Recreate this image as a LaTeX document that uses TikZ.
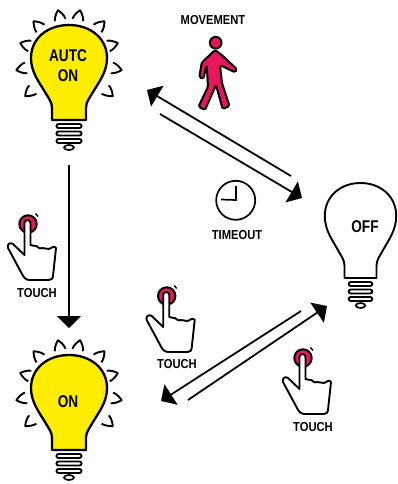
\documentclass[tikz,border=0pt]{standalone}
\usepackage{fontspec}
\newfontfamily\labelfont[FakeStretch=0.86]{Liberation Sans}
\newfontfamily\lampfont[FakeStretch=0.8]{Liberation Sans}
\usepackage{xcolor}
\usetikzlibrary{arrows.meta}
\definecolor{lampyellow}{HTML}{FFED00}
\definecolor{touchpink}{HTML}{E6175C}

\tikzset{
  pics/bulb/.style={code={
    \draw[fill=#1, line join=round] (-17,62) -- (-17,50)
      .. controls (-17,44) and (-20,41) .. (-24,34)
      .. controls (-30,24) and (-38,14) .. (-38,0)
      .. controls (-38,-20) and (-21,-33) .. (0,-33)
      .. controls (21,-33) and (38,-20) .. (38,0)
      .. controls (38,14) and (30,24) .. (24,34)
      .. controls (20,41) and (17,44) .. (17,50) -- (17,62) -- cycle;
    \foreach \yy in {68,75.5,83}
      \draw[fill=white, rounded corners=2pt, line width=1.9pt] (-12.5,\yy-2) rectangle (12.5,\yy+2);
    \draw[fill=white, line width=1.7pt] (0,89.5) ellipse (5 and 2.5);
  }},
  pics/lamprays/.style={code={
    \foreach \ang/\rad in {103/49,134/51,163/51,193/54,221/58,77/49,46/51,17/51,-13/54,-41/58}
      \draw[rotate=\ang, line width=1.9pt, line join=round]
        (\rad-10,5.5) .. controls (\rad-6,5) and (\rad-2,2) .. (\rad,0)
        .. controls (\rad-2,-2) and (\rad-6,-5) .. (\rad-10,-5.5);
  }},
  pics/touchhand/.style={code={
    \draw[fill=touchpink, line width=2pt] (0,0) circle (8.7);
    \draw[line width=1.4pt] (7.5,-10.5) -- (10,-7.5);
    \draw[fill=white, line width=1.9pt, line join=round] (2.5,21) -- (2.5,-1)
      .. controls (2.5,-5) and (-3.5,-5) .. (-3.5,-1) -- (-3.5,31)
      -- (-15,20) .. controls (-18,18) and (-21,20) .. (-20,24)
      -- (-6,50) .. controls (-4,54) and (-2,56) .. (2,56) -- (21,56)
      .. controls (24,56) and (25,54) .. (25,52) -- (28,24)
      .. controls (26,21) and (24,24) .. (21,25)
      .. controls (18,26) and (17,23) .. (14,24)
      .. controls (11,26) and (9,21) .. (7,22) -- cycle;
  }}
}

\begin{document}
\begin{tikzpicture}[
    x=1pt,y=-1pt,
    lamplabel/.style={font=\lampfont\bfseries\fontsize{17}{20}\selectfont, align=center, inner sep=0pt},
    smalllabel/.style={font=\labelfont\bfseries\fontsize{13}{15}\selectfont, inner sep=0pt},
    arrow/.style={-{Triangle[length=12pt,width=24pt]}, line width=1.8pt}
]
\useasboundingbox (0,0) rectangle (398,484);

% lamps
\pic[line width=2.3pt] at (69,58) {bulb=lampyellow};
\pic at (69,58) {lamprays};
\node[lamplabel] (auto) at (68,66) {AUTC\\ON};

\pic[line width=2.3pt] at (69,388) {bulb=lampyellow};
\pic at (69,388) {lamprays};
\node[lamplabel] (on) at (68,402) {ON};

\pic[line width=1.9pt, xscale=0.94] at (360.5,216) {bulb=white};
\node[lamplabel] (off) at (365,227) {OFF};

% movement
\node[smalllabel] (movement) at (213,20) {MOVEMENT};
\draw[line width=2pt, fill=touchpink] (215.7,42.7) circle (5.8);
\draw[line width=2pt, fill=touchpink, line join=round, rounded corners=1.5pt]
  (215,50) -- (201.7,62.7) -- (199.3,77.3) -- (203.3,78.7) -- (206.7,65) -- (208,86.7)
  -- (198.5,106.7) -- (205,110) -- (216,85) -- (222.7,109) -- (229.5,106)
  -- (222,83.3) -- (220,65) -- (235,72.3) -- (237,69.3) -- (221.7,55) -- cycle;

% timeout
\node[draw, circle, line width=1.7pt, minimum size=39pt, inner sep=0pt] (clock) at (235.7,200.3) {};
\coordinate (clockhub) at (236,200);
\draw[line width=1.7pt] (236,186) -- (clockhub) -- (221,199.5);
\node[smalllabel] (timeout) at (237,235) {TIMEOUT};

% touch hands
\pic at (28,224) {touchhand};
\node[smalllabel] (touchdown) at (37,293) {TOUCH};
\pic at (166.7,296) {touchhand};
\node[smalllabel] (touchoff) at (177,364) {TOUCH};
\pic at (303,358) {touchhand};
\node[smalllabel] (touchon) at (313,427) {TOUCH};

% transitions
\coordinate (autostart) at (69,165);
\coordinate (autoend) at (69,328);
\draw[arrow] (autostart) -- (autoend);

\coordinate (toautostart) at (291,176);
\coordinate (toautoend) at (147,90);
\draw[arrow] (toautostart) -- (toautoend);
\coordinate (tooffstart) at (160,114);
\coordinate (tooffend) at (302,198);
\draw[arrow] (tooffstart) -- (tooffend);

\coordinate (toonstart) at (301,311);
\coordinate (toonend) at (161,401);
\draw[arrow] (toonstart) -- (toonend);
\coordinate (fromonstart) at (188,400);
\coordinate (fromonend) at (327,306);
\draw[arrow] (fromonstart) -- (fromonend);
\end{tikzpicture}
\end{document}
